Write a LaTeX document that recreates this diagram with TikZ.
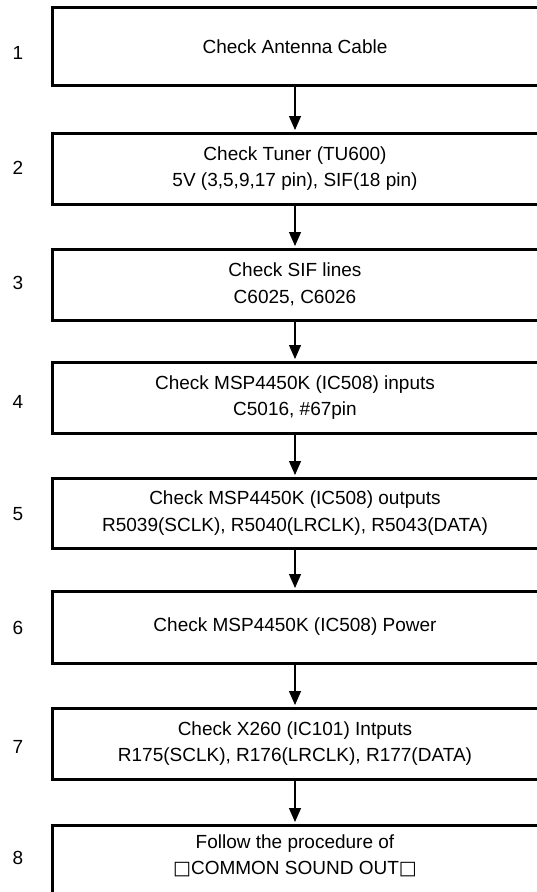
\documentclass[tikz,border=0pt]{standalone}
\usepackage{fontspec}
\setmainfont{Liberation Sans}
\newfontfamily\dvsans{DejaVu Sans}
\usetikzlibrary{arrows.meta}
\begin{document}
\begin{tikzpicture}[x=1pt,y=-1pt,
  stepbox/.style={draw, line width=3pt, minimum width=486pt, inner sep=0pt, align=center,
    font=\fontsize{19}{26.5}\selectfont},
  boxtext/.style={align=center, inner sep=0pt, font=\fontsize{19}{26.5}\selectfont},
  numlabel/.style={inner sep=0pt, font=\fontsize{19}{22}\selectfont},
  flow/.style={-{Triangle[length=14pt,width=12pt]}, line width=1.2pt, shorten >=1.5pt}]
\useasboundingbox (0,0) rectangle (536,892);
\fill[white] (0,0) rectangle (536,892);
% boxes
\node[stepbox, minimum height=78pt] (b1) at (295,46.7) {\raisebox{-3pt}{Check Antenna Cable}};
\node[stepbox, minimum height=71pt] (b2) at (295,168.5) {Check Tuner (TU600)\\5V (3,5,9,17 pin), SIF(18 pin)};
\node[stepbox, minimum height=71pt] (b3) at (295,284.5) {Check SIF lines\\C6025, C6026};
\node[stepbox, minimum height=71pt] (b4) at (295,397.5) {Check MSP4450K (IC508) inputs\\C5016, \#67pin};
\node[stepbox, minimum height=70pt] (b5) at (295,513) {Check MSP4450K (IC508) outputs\\R5039(SCLK), R5040(LRCLK), R5043(DATA)};
\node[stepbox, minimum height=72pt] (b6) at (295,627) {Check MSP4450K (IC508) Power};
\node[stepbox, minimum height=71pt] (b7) at (295,743.5) {Check X260 (IC101) Intputs\\R175(SCLK), R176(LRCLK), R177(DATA)};
\node[stepbox, minimum height=76pt] (b8) at (295,863) {};
\node[boxtext] (t8) at (295,856) {Follow the procedure of\\{\dvsans □}COMMON SOUND OUT{\dvsans □}};
% step numbers
\node[numlabel] (n1) at (18,53) {1};
\node[numlabel] (n2) at (18,168) {2};
\node[numlabel] (n3) at (18,283) {3};
\node[numlabel] (n4) at (18,402) {4};
\node[numlabel] (n5) at (18,514) {5};
\node[numlabel] (n6) at (18,628) {6};
\node[numlabel] (n7) at (18,747) {7};
\node[numlabel] (n8) at (18,858) {8};
% connectors
\draw[flow] (b1.south) -- (b2.north);
\draw[flow] (b2.south) -- (b3.north);
\draw[flow] (b3.south) -- (b4.north);
\draw[flow] (b4.south) -- (b5.north);
\draw[flow] (b5.south) -- (b6.north);
\draw[flow] (b6.south) -- (b7.north);
\draw[flow] (b7.south) -- (b8.north);
\end{tikzpicture}
\end{document}
